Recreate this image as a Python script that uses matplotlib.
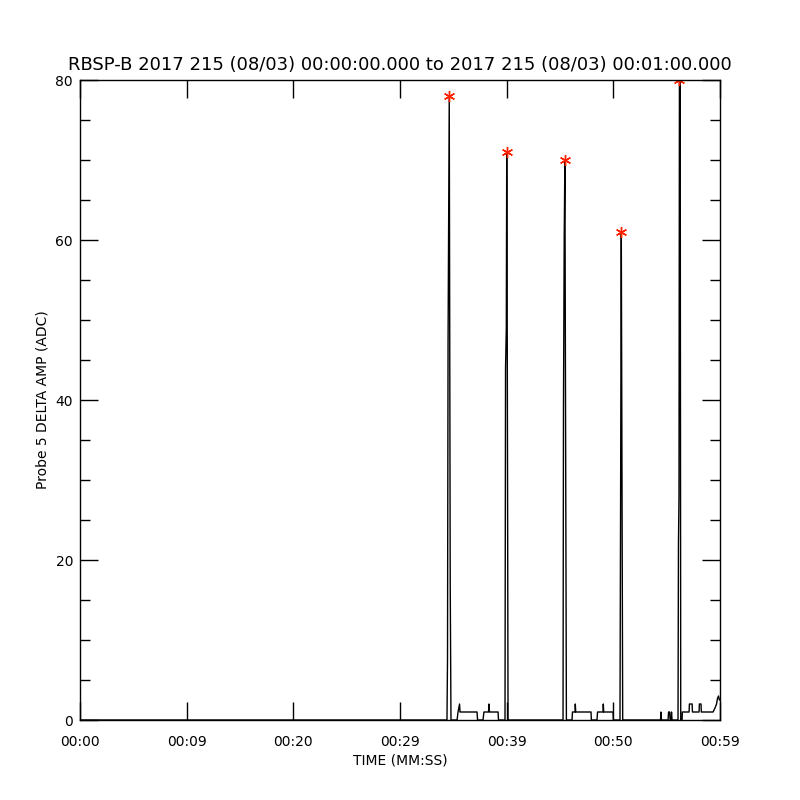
import numpy as np
import matplotlib
matplotlib.use('Agg')
import matplotlib.pyplot as plt

# time in seconds from 00:00:00, amplitude in ADC
time_s = [0.0, 33.83,
          33.88, 33.93, 34.04, 34.13, 34.20,
          34.76, 34.85, 34.99, 35.03, 36.60, 36.65, 37.15, 37.24, 37.66, 37.70, 37.75, 38.54, 38.58,
          39.18, 39.23, 39.30, 39.34, 39.39, 39.46,
          44.53, 44.57, 44.64, 44.70, 44.76, 44.84,
          45.36, 45.40, 45.64, 45.66, 45.70, 47.11, 47.14, 47.66, 47.71, 48.22, 48.24, 48.28, 49.14, 49.17,
          49.78, 49.83, 49.90, 49.96, 50.03,
          53.52, 53.55, 53.60, 54.21, 54.26, 54.35, 54.40, 54.49, 54.53, 54.58,
          55.13, 55.17, 55.22, 55.26, 55.33, 55.38,
          55.50, 55.53, 56.15, 56.18, 56.43, 56.46, 57.07, 57.10, 57.25, 57.28, 58.36, 58.54, 58.68, 58.77, 58.86, 58.95, 59.0]
amp = [0, 0,
       7.5, 47, 78, 17, 0,
       0, 1, 2, 1, 1, 0, 0, 1, 1, 2, 1, 1, 0,
       0, 44, 49, 71, 46, 0,
       0, 39, 60.5, 70, 39, 0,
       0, 1, 1, 2, 1, 1, 0, 0, 1, 1, 2, 1, 1, 0,
       0, 24.4, 61, 32.5, 0,
       0, 1, 0, 0, 1, 1, 0, 0, 1, 0,
       0, 22, 28, 80, 80, 0,
       0, 1, 1, 2, 2, 1, 1, 2, 2, 1, 1, 1.5, 2, 2.7, 3.0, 2.5, 2.5]

peak_t = [34.04, 39.34, 44.70, 49.90, 55.26]
peak_amp = [78, 71, 70, 61, 80]

tick_pos = [0, 59/6, 2*59/6, 3*59/6, 4*59/6, 5*59/6, 59]
tick_labels = ['00:00', '00:09', '00:20', '00:29', '00:39', '00:50', '00:59']

fig = plt.figure(figsize=(8, 8), dpi=100)
ax = fig.add_axes([0.1, 0.1, 0.8, 0.8])

ax.plot(time_s, amp, color='black', lw=1.0)
ax.plot(peak_t, peak_amp, linestyle='none', marker=(6, 2, 0), color='#ff2000',
        markersize=8, markeredgewidth=1.0)

ax.set_xlim(0, 59)
ax.set_ylim(0, 80)
ax.set_xticks(tick_pos)
ax.set_xticklabels(tick_labels)
ax.set_yticks([0, 20, 40, 60, 80])
ax.set_yticks(np.arange(0, 81, 5), minor=True)

ax.tick_params(axis='both', which='major', direction='in', length=13, width=1,
               top=True, right=True, labelsize=10)
ax.tick_params(axis='x', which='major', pad=11)
ax.tick_params(axis='y', which='major', pad=5)
ax.tick_params(axis='y', which='minor', direction='in', length=7, width=1,
               left=True, right=True)
for s in ax.spines.values():
    s.set_linewidth(1)

ax.set_title('RBSP-B 2017 215 (08/03) 00:00:00.000 to 2017 215 (08/03) 00:01:00.000',
             fontsize=13, pad=7)
ax.set_xlabel('TIME (MM:SS)', fontsize=10, labelpad=3)
ax.set_ylabel('Probe 5 DELTA AMP (ADC)', fontsize=10, labelpad=4)

fig.savefig('out.png', dpi=100)
